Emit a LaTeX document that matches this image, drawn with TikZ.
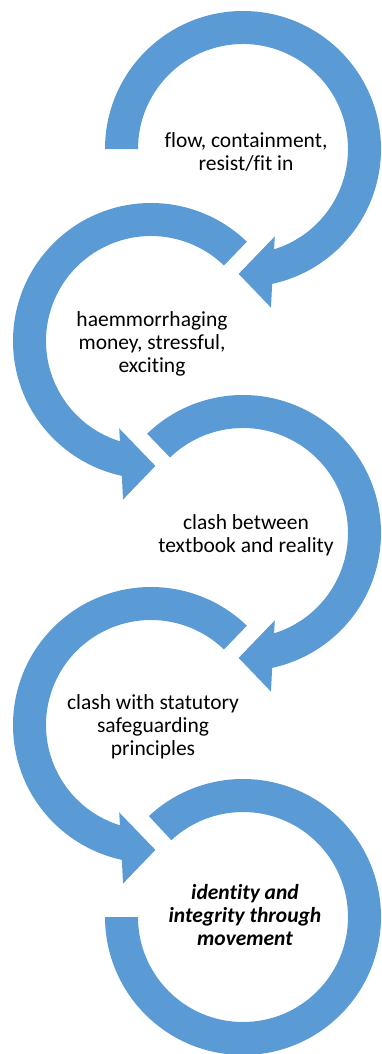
\documentclass[tikz,border=0pt]{standalone}
\usepackage{fontspec}
\setmainfont[Ligatures=NoCommon]{Carlito}
\definecolor{ringblue}{RGB}{91,155,213}
\tikzset{
  ringarrow/.pic={
    \fill[ringblue] (-#1:138) arc[start angle=-#1, end angle=-437.8, radius=138]
      -- (-80:161) -- (-92:125) -- (-70:93) -- (-72.8:105)
      arc[start angle=-432.8, end angle=-#1, radius=105] -- cycle;
  },
  lbl/.style={font=\fontsize{21.5}{23}\selectfont, align=center, inner sep=0pt, text=black}
}
\begin{document}
\begin{tikzpicture}[x=1pt,y=1pt]
\useasboundingbox (0,0) rectangle (382,-1054);
\pic at (243,-149) {ringarrow=180};
\pic[xscale=-1] at (151,-341) {ringarrow=226};
\pic at (243,-533) {ringarrow=226};
\pic[xscale=-1] at (151,-725) {ringarrow=226};
\coordinate (c5) at (243,-917);
\fill[ringblue] ([shift={(-227:138)}]c5) arc[start angle=-227, end angle=-540, radius=138]
  -- ([shift={(-540:105)}]c5) arc[start angle=-540, end angle=-227, radius=105] -- cycle;
\node[lbl] (t1) at (246,-152) {flow, containment,\\resist/fit in};
\node[lbl] (t2) at (152,-343.5) {haemmorrhaging\\money, stressful,\\exciting};
\node[lbl] (t3) at (246,-535.5) {clash between\\textbook and reality};
\node[lbl] (t4) at (153,-727) {clash with statutory\\safeguarding\\principles};
\node[lbl, font=\fontsize{21.5}{23}\selectfont\bfseries\itshape] (t5) at (245,-915) {identity and\\integrity through\\movement};
\end{tikzpicture}
\end{document}
